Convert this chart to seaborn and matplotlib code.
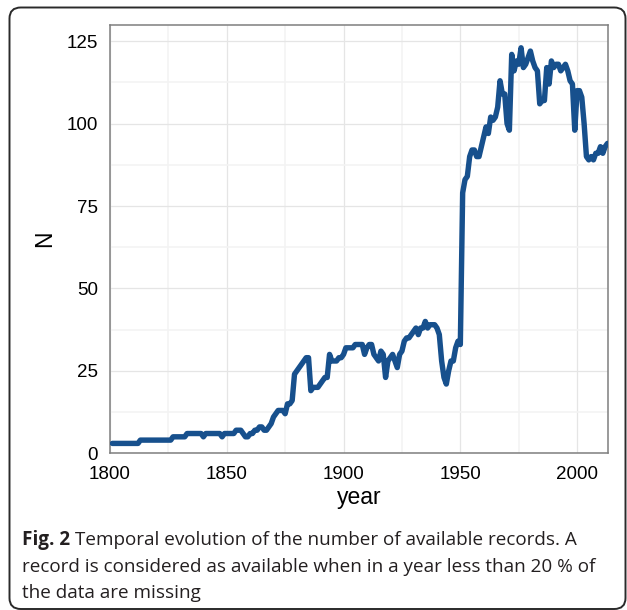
import numpy as np
import pandas as pd
import matplotlib
matplotlib.use("Agg")
import matplotlib.pyplot as plt
import seaborn as sns
from matplotlib.patches import FancyBboxPatch
from matplotlib.ticker import MultipleLocator, FixedLocator

# ---------------- data ----------------
years = list(range(1801, 2014))
n_records = [
    3, 3, 3, 3, 3, 3, 3, 3, 3, 3,            # 1801-1810
    3, 3, 4, 4, 4, 4, 4, 4, 4, 4,            # 1811-1820
    4, 4, 4, 4, 4, 4, 5, 5, 5, 5,            # 1821-1830
    5, 5, 6, 6, 6, 6, 6, 6, 6, 5,            # 1831-1840
    6, 6, 6, 6, 6, 6, 6, 5, 6, 6,            # 1841-1850
    6, 6, 6, 7, 7, 7, 6, 5, 5, 6,            # 1851-1860
    6, 7, 7, 8, 8, 7, 7, 8, 9, 11,           # 1861-1870
    12, 13, 13, 13, 12, 15, 15, 16, 24, 25,  # 1871-1880
    26, 27, 28, 29, 29, 19, 20, 20, 20, 21,  # 1881-1890
    22, 23, 23, 30, 28, 28, 28, 29, 29, 30,  # 1891-1900
    32, 32, 32, 32, 33, 33, 33, 33, 30, 32,  # 1901-1910
    33, 33, 30, 29, 28, 31, 30, 23, 28, 29,  # 1911-1920
    30, 28, 26, 30, 31, 34, 35, 35, 36, 37,  # 1921-1930
    38, 36, 38, 38, 40, 38, 39, 39, 39, 38,  # 1931-1940
    36, 28, 23, 21, 25, 28, 28, 32, 34, 33,  # 1941-1950
    79, 83, 84, 90, 92, 92, 90, 90, 93, 96,  # 1951-1960
    99, 97, 102, 101, 102, 105, 113, 109, 109, 100,  # 1961-1970
    98, 121, 116, 119, 118, 123, 117, 118, 120, 122,  # 1971-1980
    119, 117, 116, 106, 107, 107, 117, 112, 119, 117,  # 1981-1990
    118, 118, 116, 117, 118, 116, 113, 112, 98, 110,  # 1991-2000
    110, 108, 100, 90, 89, 90, 89, 91, 91, 93,  # 2001-2010
    91, 93, 94,                                  # 2011-2013
]
x_ticks = [1800, 1850, 1900, 1950, 2000]
y_ticks = [0, 25, 50, 75, 100, 125]
x_label = "year"
y_label = "N"
caption_bold = "Fig. 2"
caption_line1 = "Temporal evolution of the number of available records. A"
caption_line2 = "record is considered as available when in a year less than 20 % of"
caption_line3 = "the data are missing"

df = pd.DataFrame({"year": years, "N": n_records})

# ---------------- figure ----------------
sns.set_style("white")
W, H = 627, 610
fig = plt.figure(figsize=(W / 100, H / 100), dpi=100)
fig.patch.set_facecolor("white")

# rounded caption/figure frame
frame = FancyBboxPatch((9.5 / W, 1 - 609 / H), (625.5 - 9.5) / W, (609 - 7.5) / H,
                       boxstyle="round,pad=0,rounding_size=0.018",
                       transform=fig.transFigure, facecolor="none",
                       edgecolor="#2a2a2a", linewidth=1.4, zorder=0)
fig.patches.append(frame)

left, right = 110 / W, 607.7 / W
top, bottom = 1 - 24.7 / H, 1 - 453.3 / H
ax = fig.add_axes([left, bottom, right - left, top - bottom])
ax.set_facecolor("white")

sns.lineplot(data=df, x="year", y="N", ax=ax, color="#17508D", linewidth=3.9,
             solid_joinstyle="round", solid_capstyle="round", zorder=3)

ax.set_xlim(1800, 2013.1)
ax.set_ylim(0, 130)
ax.xaxis.set_major_locator(FixedLocator(x_ticks))
ax.yaxis.set_major_locator(FixedLocator(y_ticks))
ax.xaxis.set_minor_locator(MultipleLocator(25))
ax.yaxis.set_minor_locator(MultipleLocator(12.5))
ax.grid(which="major", color="#e5e5e5", linewidth=0.9, zorder=0)
ax.grid(which="minor", color="#f3f3f3", linewidth=1.2, zorder=0)
ax.set_axisbelow(True)
for s in ax.spines.values():
    s.set_visible(True)
    s.set_color("#7f7f7f")
    s.set_linewidth(1.1)

font_axis = "Liberation Sans"
ax.tick_params(which="major", direction="out", length=5.5, width=1.2,
               color="black", labelcolor="black", labelsize=13.5)
ax.tick_params(axis="x", which="major", pad=4)
ax.tick_params(axis="y", which="major", pad=3)
ax.tick_params(which="minor", length=0)
ax.set_xticklabels([str(t) for t in x_ticks], fontfamily=font_axis)
ax.set_yticklabels([str(t) for t in y_ticks], fontfamily=font_axis)
ax.set_xlabel(x_label, fontsize=16.5, fontfamily=font_axis, color="black", labelpad=2)
ax.set_ylabel(y_label, fontsize=16.5, fontfamily=font_axis, color="black", labelpad=8)

# ---------------- caption ----------------
cap_font = "Open Sans"
cap_size = 13.6
cap_color = "#231f20"
x0 = 22 / W
t_bold = fig.text(x0, 1 - 545 / H, caption_bold, fontsize=cap_size, fontweight="bold",
                  fontfamily=cap_font, color=cap_color, va="baseline", ha="left")
fig.canvas.draw()
r = fig.canvas.get_renderer()
bb = t_bold.get_window_extent(r)
x1 = bb.x1 / W + 5 / W
fig.text(x1, 1 - 545 / H, caption_line1, fontsize=cap_size, fontfamily=cap_font,
         color=cap_color, va="baseline", ha="left")
fig.text(x0, 1 - 571.5 / H, caption_line2, fontsize=cap_size, fontfamily=cap_font,
         color=cap_color, va="baseline", ha="left")
fig.text(x0, 1 - 598 / H, caption_line3, fontsize=cap_size, fontfamily=cap_font,
         color=cap_color, va="baseline", ha="left")

fig.savefig("out.png", dpi=100, facecolor="white")
